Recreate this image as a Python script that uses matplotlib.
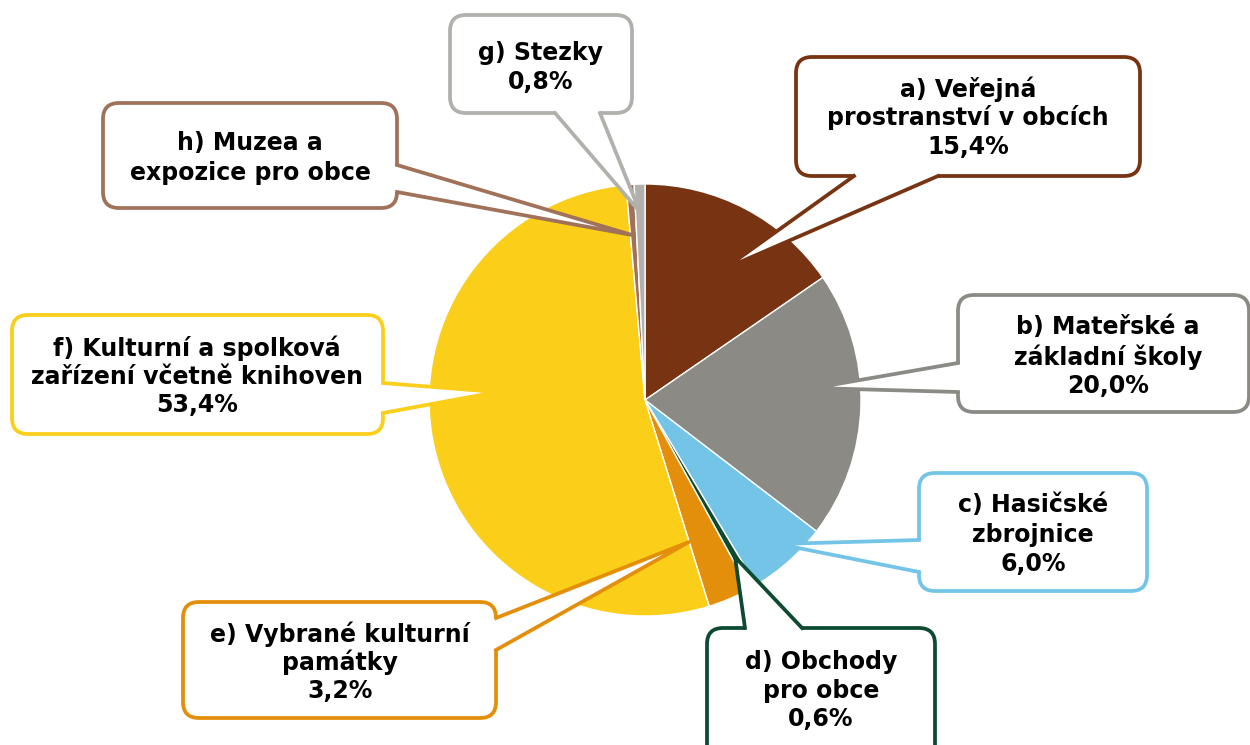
import matplotlib
matplotlib.use("Agg")
import matplotlib.pyplot as plt
from matplotlib.patches import FancyBboxPatch, Polygon
from matplotlib.lines import Line2D

# ---------------- data ----------------
categories = ["a", "b", "c", "d", "e", "f", "h", "g"]
values = [15.4, 20.0, 6.0, 0.6, 3.2, 53.4, 0.6, 0.8]
label_lines = {
    "a": ["a) Veřejná", "prostranství v obcích", "15,4%"],
    "b": ["b) Mateřské a", "základní školy", "20,0%"],
    "c": ["c) Hasičské", "zbrojnice", "6,0%"],
    "d": ["d) Obchody", "pro obce", "0,6%"],
    "e": ["e) Vybrané kulturní", "památky", "3,2%"],
    "f": ["f) Kulturní a spolková", "zařízení včetně knihoven", "53,4%"],
    "g": ["g) Stezky", "0,8%"],
    "h": ["h) Muzea a", "expozice pro obce"],
}
colors = {
    "a": "#773312", "b": "#8B8A84", "c": "#74C4E8", "d": "#0C4B31",
    "e": "#E38F0B", "f": "#FACE19", "h": "#A0725A", "g": "#B1B0AC",
}

W, H = 1250, 745
fig = plt.figure(figsize=(W / 100, H / 100), dpi=100)
ax = fig.add_axes([0, 0, 1, 1])

def Y(y):
    return H - y

cx, cy, r = 645, 400, 216
ax.pie(values, colors=[colors[c] for c in categories], startangle=90,
       counterclock=False, radius=r, center=(cx, Y(cy)),
       wedgeprops=dict(edgecolor="white", linewidth=1.0))
ax.set_xlim(0, W)
ax.set_ylim(0, H)
ax.set_aspect("equal", adjustable="box")
ax.axis("off")

LW = 2.7

# callout geometry (pixel coords, y down)
callouts = {
    "a": dict(box=(796, 57, 1140, 176), side="bottom", base=(854, 938), tip=(724, 269),
              tx=968, ty=[89, 118, 147]),
    "b": dict(box=(958, 295, 1249, 412), side="left", base=(363, 392), tip=(814, 388),
              tx=1108, ty=[327, 357, 386]),
    "c": dict(box=(919, 473, 1147, 591), side="left", base=(540, 572), tip=(778, 544),
              tx=1033, ty=[505, 535, 564]),
    "d": dict(box=(707, 628, 935, 765), side="top", base=(745, 802), tip=(735, 557),
              tx=821, ty=[662, 691, 719]),
    "e": dict(box=(183, 602, 496, 718), side="right", base=(618, 650), tip=(689, 542),
              tx=340, ty=[634, 662, 691]),
    "f": dict(box=(12, 315, 383, 434), side="right", base=(383, 413), tip=(497, 392),
              tx=197, ty=[348, 377, 405]),
    "g": dict(box=(450, 15, 632, 113), side="bottom", base=(555, 600), tip=(640, 212),
              tx=541, ty=[53, 82]),
    "h": dict(box=(103, 103, 397, 208), side="right", base=(165, 192), tip=(632, 235),
              tx=250, ty=[143, 173]),
}

def draw_callout(key):
    c = callouts[key]
    col = colors[key]
    x0, y0, x1, y1 = c["box"]
    box = FancyBboxPatch((x0, Y(y1)), x1 - x0, y1 - y0,
                         boxstyle="round,pad=0,rounding_size=16",
                         facecolor="white", edgecolor=col, linewidth=LW, zorder=3)
    ax.add_patch(box)
    side = c["side"]
    b1, b2 = c["base"]
    ins = 6
    if side == "bottom":
        p1, p2 = (b1, y1), (b2, y1)
        i1, i2 = (b1, y1 - ins), (b2, y1 - ins)
    elif side == "top":
        p1, p2 = (b1, y0), (b2, y0)
        i1, i2 = (b1, y0 + ins), (b2, y0 + ins)
    elif side == "left":
        p1, p2 = (x0, b1), (x0, b2)
        i1, i2 = (x0 + ins, b1), (x0 + ins, b2)
    else:
        p1, p2 = (x1, b1), (x1, b2)
        i1, i2 = (x1 - ins, b1), (x1 - ins, b2)
    tip = c["tip"]
    pts = [i1, p1, tip, p2, i2]
    ax.add_patch(Polygon([(x, Y(y)) for x, y in pts], closed=True,
                         facecolor="white", edgecolor="none", zorder=4))
    ln = [p1, tip, p2]
    ax.add_line(Line2D([p[0] for p in ln], [Y(p[1]) for p in ln], color=col,
                       linewidth=LW, solid_joinstyle="round", zorder=5))
    for line, ty in zip(label_lines[key], c["ty"]):
        ax.text(c["tx"], Y(ty), line, ha="center", va="center",
                fontsize=17, fontweight="bold", family="DejaVu Sans",
                color="black", zorder=6)

for k in callouts:
    draw_callout(k)

fig.savefig("out.png", dpi=100)
